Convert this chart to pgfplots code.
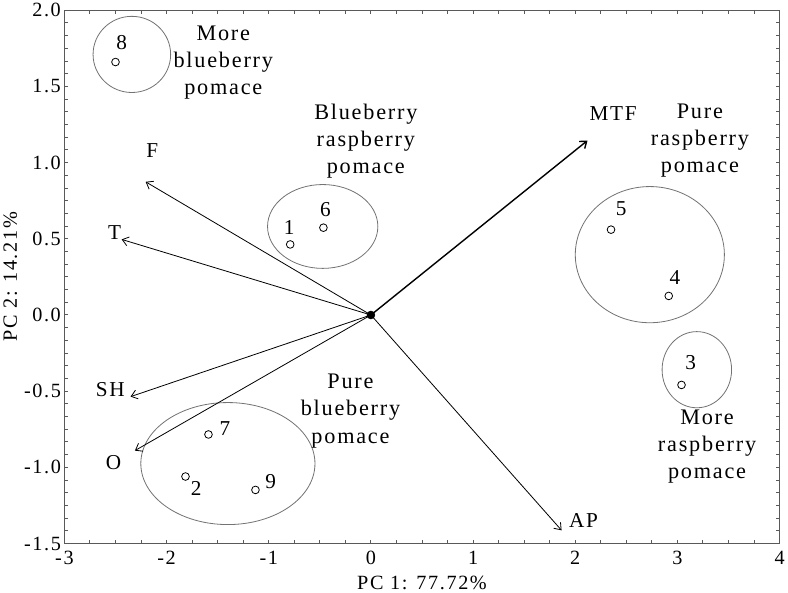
\documentclass[border=0pt]{standalone}
\usepackage{fontspec}
\setmainfont{Liberation Serif}[LetterSpace=8]
\usepackage{pgfplots}
\pgfplotsset{compat=1.18}
\usetikzlibrary{arrows.meta}

\begin{document}
\begin{tikzpicture}[font=\fontsize{20}{24}\selectfont]
  \begin{axis}[
      scale only axis, width=708pt, height=528pt,
      xmin=-3, xmax=4, ymin=-1.5, ymax=2,
      xtick={-3,-2,-1,0,1,2,3,4},
      ytick={-1.5,-1,-0.5,0,0.5,1,1.5,2},
      minor x tick num=3, minor y tick num=5,
      tick align=inside,
      major tick length=4pt, minor tick length=4pt,
      axis line style={draw=black!65, line width=1.4pt},
      every tick/.style={black!65, line width=1pt},
      /pgf/number format/assume math mode=true,
      yticklabel style={/pgf/number format/.cd, fixed, fixed zerofill, precision=1},
      xticklabel style={yshift=-4pt},
      xlabel={PC 1: 77.72\%}, ylabel={PC 2: 14.21\%},
      xlabel style={yshift=-4pt},
      clip=false,
    ]
    % group ellipses
    \draw[black!55, line width=0.8pt] (axis cs:-2.34,1.71) ellipse [x radius=38.4pt, y radius=37.7pt];
    \draw[black!55, line width=0.8pt] (axis cs:-0.472,0.581) ellipse [x radius=54.6pt, y radius=41.5pt];
    \draw[black!55, line width=0.8pt] (axis cs:2.73,0.396) ellipse [x radius=73.8pt, y radius=67.4pt];
    \draw[black!55, line width=0.8pt] (axis cs:3.19,-0.359) ellipse [x radius=34.4pt, y radius=37.7pt];
    \draw[black!55, line width=0.8pt] (axis cs:-1.40,-0.975) ellipse [x radius=86.2pt, y radius=60.4pt];

    % loadings
    \addplot[black, line width=0.8pt, -{Straight Barb[length=6pt,width=9pt]}] coordinates {(0,0) (-2.205,0.874)};
    \addplot[black, line width=0.8pt, -{Straight Barb[length=6pt,width=9pt]}] coordinates {(0,0) (-2.44,0.496)};
    \addplot[black, line width=1.4pt, -{Straight Barb[length=6pt,width=9pt]}] coordinates {(0,0) (2.12,1.145)};
    \addplot[black, line width=0.8pt, -{Straight Barb[length=6pt,width=9pt]}] coordinates {(0,0) (1.866,-1.413)};
    \addplot[black, line width=0.8pt, -{Straight Barb[length=6pt,width=9pt]}] coordinates {(0,0) (-2.353,-0.536)};
    \addplot[black, line width=0.8pt, -{Straight Barb[length=6pt,width=9pt]}] coordinates {(0,0) (-2.31,-0.89)};
    \addplot[only marks, mark=*, mark size=4pt, black] coordinates {(0,0)};

    % scores
    \addplot[only marks, mark=o, mark size=3.8pt, black, line width=0.8pt] table {
      x      y
      -2.50  1.66
      -0.79  0.463
      -0.465 0.573
      2.35   0.56
      2.915  0.125
      3.04   -0.459
      -1.59  -0.784
      -1.815 -1.06
      -1.13  -1.148
    };

    % score labels
    \begin{scope}[every node/.style={font=\fontsize{21}{24}\selectfont}]
      \node at (axis cs:-2.44,1.79) {8};
      \node at (axis cs:-0.80,0.575) {1};
      \node at (axis cs:-0.445,0.695) {6};
      \node at (axis cs:2.45,0.695) {5};
      \node at (axis cs:2.975,0.244) {4};
      \node at (axis cs:3.13,-0.313) {3};
      \node at (axis cs:-1.43,-0.742) {7};
      \node at (axis cs:-1.71,-1.14) {2};
      \node at (axis cs:-0.98,-1.093) {9};

      % loading labels
      \node at (axis cs:-2.14,1.08) {F};
      \node at (axis cs:-2.51,0.54) {T};
      \node at (axis cs:2.37,1.32) {MTF};
      \node at (axis cs:2.08,-1.35) {AP};
      \node at (axis cs:-2.55,-0.49) {SH};
      \node at (axis cs:-2.52,-0.967) {O};
    \end{scope}

    % group labels
    \begin{scope}[every node/.style={align=center, font=\fontsize{22}{27}\selectfont}]
      \node at (axis cs:-1.445,1.656) {More\\blueberry\\pomace};
      \node at (axis cs:-0.05,1.14) {Blueberry\\raspberry\\pomace};
      \node at (axis cs:3.22,1.145) {Pure\\raspberry\\pomace};
      \node at (axis cs:3.29,-0.863) {More\\raspberry\\pomace};
      \node at (axis cs:-0.2,-0.63) {Pure\\blueberry\\pomace};
    \end{scope}
  \end{axis}
\end{tikzpicture}
\end{document}
